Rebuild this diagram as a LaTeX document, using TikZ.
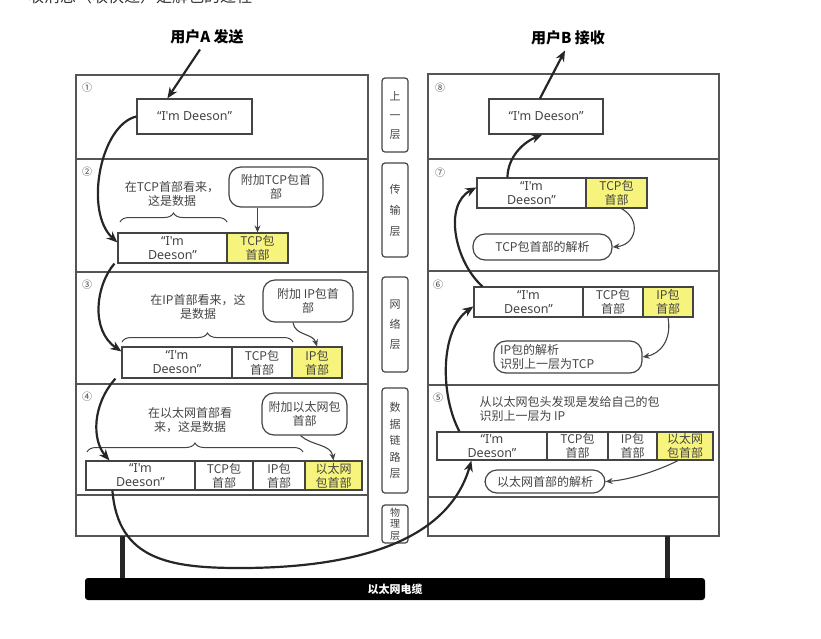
\documentclass[tikz,border=0pt]{standalone}
\usepackage{fontspec}
\setmainfont{Noto Sans CJK SC}
\newfontfamily\latinf{Noto Sans}
\usetikzlibrary{arrows.meta,decorations.pathreplacing,calc}
\definecolor{ink}{HTML}{444444}
\definecolor{frame}{HTML}{555555}
\definecolor{hdr}{HTML}{F7F47E}
\tikzset{
  base/.style={font=\fontsize{12}{14}\selectfont, text=ink},
  cell/.style={draw=ink, line width=1.2pt, inner sep=0pt, align=center, fill=white, base},
  dcell/.style={cell, font=\latinf\fontsize{12.5}{14}\selectfont},
  hcell/.style={cell, fill=hdr},
  note/.style={draw=ink, line width=1.2pt, rounded corners=12pt, align=center, inner sep=0pt, fill=white, base},
  layer/.style={draw=ink, line width=1.2pt, rounded corners=3pt, align=center, inner sep=0pt,
                minimum width=26pt, text=ink},
  lfont/.style={font=\fontsize{11}{#1}\selectfont},
  flow/.style={line width=2.2pt, -{Stealth[length=11pt,width=9pt]}, black!85},
  tip/.style={line width=1.1pt, -{Stealth[length=7pt,width=6pt]}, ink},
  brace/.style={decorate, decoration={brace, amplitude=9pt}, line width=1pt, ink},
  num/.style={font=\fontsize{10}{10}\selectfont, text=ink},
  title/.style={font=\bfseries\fontsize{15}{17}\selectfont, inner sep=1pt},
  stack/.style={draw=frame, line width=1.2pt},
}
\begin{document}
\begin{tikzpicture}[x=1pt,y=-1pt]
\useasboundingbox (0,0) rectangle (821,638);

% heading line running off the top edge
\node[anchor=base west, inner sep=0pt, text=black!80, font=\fontsize{16}{16}\selectfont] (headline) at (5,2)
  {•\hspace{7pt}收消息（收快递）是解包的过程};

% ---- protocol stacks ----
\draw[stack] (76,75) rectangle (368,536);
\foreach \yy in {159,272,384,495} \draw[stack] (76,\yy) -- (368,\yy);
\draw[stack] (428,74) rectangle (719,536);
\foreach \yy in {159,271,385,497} \draw[stack] (428,\yy) -- (719,\yy);

% ---- cable and the two legs ----
\node[fill=black, rounded corners=3pt, minimum width=620pt, minimum height=22pt, inner sep=0pt,
      text=white, font=\bfseries\fontsize{11}{12}\selectfont] (cable) at (395,589) {以太网电缆};
\coordinate (legA) at (122,536);
\coordinate (legB) at (667,536);
\draw[line width=5pt, black!85] (legA) -- (legA |- cable.north);
\draw[line width=5pt, black!85] (legB) -- (legB |- cable.north);

% ---- titles ----
\node[title] (titleA) at (207,37) {用户A 发送};
\node[title] (titleB) at (568,38) {用户B 接收};

% ---- step numbers ----
\foreach \s/\xx/\yy in {①/87/88, ②/87/172, ③/87/285, ④/87/397,
                         ⑧/440/88, ⑦/440/173, ⑥/438/285, ⑤/438/398}
  \node[num] at (\xx,\yy) {\s};

% ---- layer labels ----
\node[layer, lfont=19, minimum height=74pt]   (l1) at (395,115)   {上\\一\\层};
\node[layer, lfont=21, minimum height=94pt]   (l2) at (395,210)   {传\\输\\层};
\node[layer, lfont=20, minimum height=95pt]   (l3) at (395,324.5) {网\\络\\层};
\node[layer, lfont=16.5, minimum height=105pt] (l4) at (395,440.5) {数\\据\\链\\路\\层};
\node[layer, font=\fontsize{10}{11.5}\selectfont, minimum height=38pt] (l5) at (395,524) {物\\理\\层};

% ================= sender side =================
% 1: application data
\node[dcell, minimum width=115pt, minimum height=35pt] (a1) at (194.5,116.5) {“I'm Deeson”};

% 2: TCP
\node[base, align=center] (t2) at (172,194) {在TCP首部看来，\\这是数据};
\draw[brace] (120,222) -- (227,222);
\node[note, minimum width=94pt, minimum height=40pt] (c2) at (276,187) {附加TCP包首\\部};
\node[dcell, minimum width=109pt, minimum height=30pt] (a2d) at (172.5,248) {“I'm\\Deeson”};
\node[hcell, minimum width=61pt, minimum height=30pt] (a2t) at (257.5,248) {TCP包\\首部};

% 3: IP
\node[base, align=center] (t3) at (198,307) {在IP首部看来，这\\是数据};
\draw[brace] (122,342) -- (293,342);
\node[note, minimum width=90pt, minimum height=42pt] (c3) at (308,301) {附加 IP包首\\部};
\node[dcell, minimum width=110pt, minimum height=31pt] (a3d) at (177,362.5) {“I'm\\Deeson”};
\node[cell,  minimum width=60pt, minimum height=31pt] (a3t) at (262,362.5) {TCP包\\首部};
\node[hcell, minimum width=50pt, minimum height=31pt] (a3i) at (317,362.5) {IP包\\首部};

% 4: Ethernet
\node[base, align=center] (t4) at (190,420) {在以太网首部看\\来，这是数据};
\draw[brace] (87,452) -- (303,452);
\node[note, minimum width=85pt, minimum height=42pt] (c4) at (304.5,414) {附加以太网包\\首部};
\node[dcell, minimum width=109pt, minimum height=29pt] (a4d) at (140.5,475.5) {“I'm\\Deeson”};
\node[cell,  minimum width=58pt, minimum height=29pt] (a4t) at (224,475.5) {TCP包\\首部};
\node[cell,  minimum width=52pt, minimum height=29pt] (a4i) at (279,475.5) {IP包\\首部};
\node[hcell, minimum width=57pt, minimum height=29pt] (a4e) at (333.5,475.5) {以太网\\包首部};

% ================= receiver side =================
% 8: application data
\node[dcell, minimum width=114pt, minimum height=35pt] (b8) at (546,116.5) {“I'm Deeson”};

% 7: TCP
\node[dcell, minimum width=109pt, minimum height=30pt] (b7d) at (531.5,193) {“I'm\\Deeson”};
\node[hcell, minimum width=61pt, minimum height=30pt] (b7t) at (616.5,193) {TCP包\\首部};
\node[note, minimum width=139pt, minimum height=26pt] (c7) at (542.5,247) {TCP包首部的解析};

% 6: IP
\node[dcell, minimum width=109pt, minimum height=30pt] (b6d) at (528.5,302) {“I'm\\Deeson”};
\node[cell,  minimum width=60pt, minimum height=30pt] (b6t) at (613,302) {TCP包\\首部};
\node[hcell, minimum width=50pt, minimum height=30pt] (b6i) at (668,302) {IP包\\首部};
\node[note, minimum width=148pt, minimum height=32pt, align=left, text width=136pt] (c6) at (568,357)
  {IP包的解析\\识别上一层为TCP};

% 5: Ethernet
\node[base, align=left, anchor=west] (t5) at (476,409) {从以太网包头发现是发给自己的包\\识别上一层为 IP};
\node[dcell, minimum width=110pt, minimum height=28pt] (b5d) at (492,446) {“I'm\\Deeson”};
\node[cell,  minimum width=61pt, minimum height=28pt] (b5t) at (577.5,446) {TCP包\\首部};
\node[cell,  minimum width=49pt, minimum height=28pt] (b5i) at (632.5,446) {IP包\\首部};
\node[hcell, minimum width=56pt, minimum height=28pt] (b5e) at (685,446) {以太网\\包首部};
\node[note, minimum width=120pt, minimum height=23pt] (c5) at (545,481.5) {以太网首部的解析};

% ================= data flow =================
\draw[flow] ([xshift=-7pt,yshift=-4pt]titleA.south) -- ([xshift=31pt]a1.north west);
\draw[flow] (a1.west) .. controls (100,125) and (84,212) .. ([yshift=-10pt]a2d.north west);
\draw[flow] ([xshift=-3pt]a2d.south west) .. controls (96,285) and (90,330) .. ([yshift=-5pt]a3d.north west);
\draw[flow] ([xshift=-6pt]a3d.south west) .. controls (92,405) and (92,440) .. ([xshift=24pt]a4d.north west);
\draw[flow] ([xshift=27pt]a4d.south west) .. controls (118,560) and (170,568) .. (240,568)
            .. controls (330,568) and (445,552) .. ([xshift=35pt]b5d.south west);
\draw[flow] ([xshift=23pt]b5d.north west) .. controls (440,395) and (440,330) .. ([yshift=-20pt]b6d.north west);
\draw[flow] ([xshift=9pt]b6d.north west) .. controls (455,262) and (443,205) .. ([yshift=-10pt]b7d.north west);
\draw[flow] ([xshift=31pt]b7d.north west) .. controls (508,156) and (524,142) .. ([xshift=54pt]b8.south west);
\draw[flow] ([xshift=-6pt]b8.north) -- ([xshift=-3pt,yshift=-4pt]titleB.south);

% ================= header annotations =================
\draw[tip] (a2t.north |- c2.south) -- (a2t.north);
\draw[tip] ([xshift=-15pt]c3.south) .. controls (295,336) and (313,333) .. (a3i.north);
\draw[tip] ([xshift=-4pt]c4.south) .. controls (312,446) and (331,444) .. (a4e.north);
\draw[tip] ([xshift=5pt]b7t.south) .. controls (642,220) and (636,245) .. (c7.east);
\draw[tip] (b6i.south) .. controls (672,340) and (660,354) .. (c6.east);
\draw[tip] ([xshift=-7pt]b5e.south) .. controls (655,472) and (628,480) .. (c5.east);
\end{tikzpicture}
\end{document}
